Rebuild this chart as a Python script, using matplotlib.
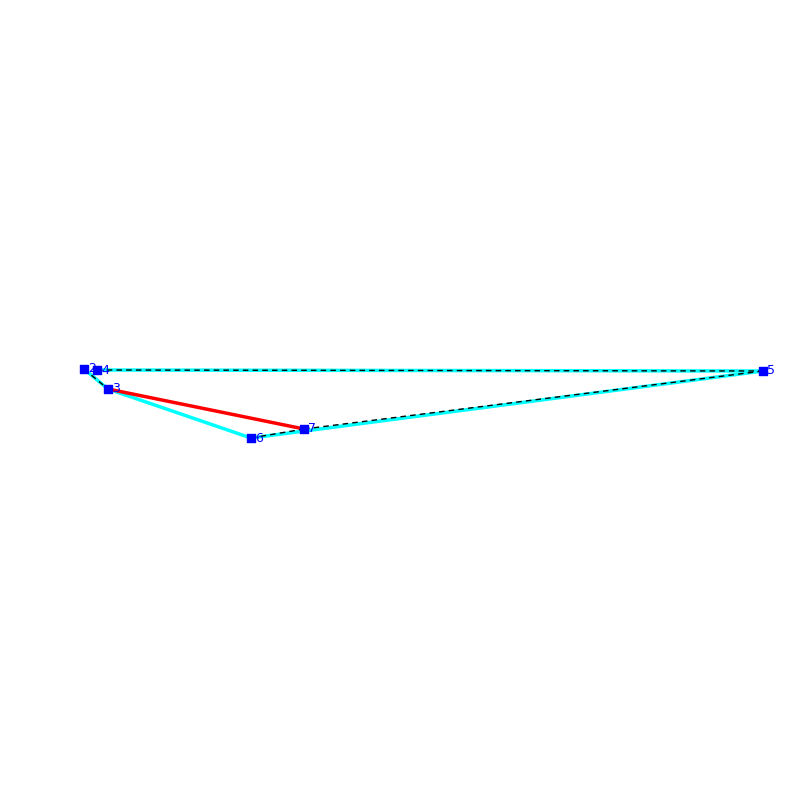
import matplotlib
matplotlib.use("Agg")
import matplotlib.pyplot as plt

node_ids = ["2", "4", "3", "6", "7", "5"]
node_x = [84, 97, 108, 251, 304, 763]
node_y = [369, 370, 389, 438, 429, 371]
cyan_edges = [("2", "3"), ("3", "6"), ("6", "5"), ("4", "5")]
dashed_edges = [("2", "3"), ("6", "7"), ("7", "5"), ("4", "5")]
red_edges = [("3", "7")]

pos = {n: (x, y) for n, x, y in zip(node_ids, node_x, node_y)}

fig = plt.figure(figsize=(8, 8), dpi=100)
ax = fig.add_axes([0, 0, 1, 1])
ax.set_xlim(0, 800)
ax.set_ylim(800, 0)
ax.axis("off")

for a, b in cyan_edges:
    ax.plot([pos[a][0], pos[b][0]], [pos[a][1], pos[b][1]], color="cyan", lw=2.5, zorder=1)
for a, b in red_edges:
    ax.plot([pos[a][0], pos[b][0]], [pos[a][1], pos[b][1]], color="red", lw=2.5, zorder=2)
for a, b in dashed_edges:
    ax.plot([pos[a][0], pos[b][0]], [pos[a][1], pos[b][1]], color="black", lw=1, ls=(0, (4, 3)), zorder=3)

ax.scatter(node_x, node_y, marker="s", s=40, color="blue", zorder=4)
for n, x, y in zip(node_ids, node_x, node_y):
    ax.text(x + 4, y, n, color="blue", fontsize=9, va="center", ha="left", zorder=5)

fig.savefig("out.png", dpi=100)
